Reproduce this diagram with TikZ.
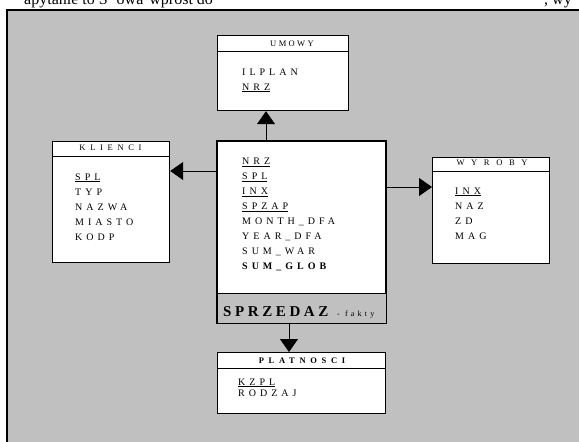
\documentclass[tikz,border=0pt]{standalone}
\usepackage{fontspec}
\setmainfont{Liberation Serif}
\newfontfamily\tabfont[LetterSpace=40]{Liberation Serif}
\usetikzlibrary{
  arrows.meta,
  positioning
}
\definecolor{panelgray}{RGB}{192,192,192}
\newcommand{\keyfield}[1]{\underline{#1}}
\newcommand{\spaced}[2]{{\addfontfeature{LetterSpace=#1}#2}}

\begin{document}
\begin{tikzpicture}[x=1pt, y=-1pt,
    table/.style={draw, line width=1.2pt, fill=white, inner sep=0pt, anchor=north west},
    title/.style={font=\fontsize{8.5}{9}\selectfont\tabfont, anchor=base, inner sep=0pt},
    field/.style={font=\fontsize{10}{12}\selectfont\tabfont, anchor=base west, inner sep=0pt},
    link/.style={line width=0.8pt, -{Triangle[width=18pt,length=13pt]}}]
  \useasboundingbox (0,0) rectangle (579,442);

  % cut-off line of text above the figure
  \begin{scope}
    \clip (0,0) rectangle (579,9.5);
    \node[anchor=base west, inner sep=0pt, font=\fontsize{16}{18}\selectfont] (topline) at (24,4.5) {apytanie to S\hspace{9pt}owa\hspace{6pt}wprost do};
    \node[anchor=base east, inner sep=0pt, font=\fontsize{16}{18}\selectfont] (topend) at (572,4.5) {, wy};
  \end{scope}

  % panel
  \fill[panelgray] (7,10) rectangle (585,450);
  \draw[line width=2pt] (7,450) -- (7,10) -- (585,10);

  % UMOWY
  \node[table, minimum width=131pt, minimum height=75pt] (umowy) at (217,35) {};
  \draw[line width=1pt] ([yshift=-16pt]umowy.north west) -- ([yshift=-16pt]umowy.north east);
  \node[title] (umowyT) at (292,46) {\spaced{28}{UMOWY}};
  \node[field] (u1) at (242,75) {ILPLAN};
  \node[field] (u2) at (242,90) {\keyfield{NRZ}};

  % KLIENCI
  \node[table, minimum width=117pt, minimum height=121pt] (klienci) at (52,141) {};
  \draw[line width=1pt] ([yshift=-15pt]klienci.north west) -- ([yshift=-15pt]klienci.north east);
  \node[title] (klienciT) at (110.5,150.7) {\spaced{55}{KLIENCI}};
  \foreach \t [count=\i] in {\keyfield{SPL}, TYP, NAZWA, MIASTO, KODP}
    \node[field] (k\i) at (75,180+15*\i-15) {\t};

  % WYROBY
  \node[table, minimum width=117pt, minimum height=106pt] (wyroby) at (432,157) {};
  \draw[line width=1pt] ([yshift=-14pt]wyroby.north west) -- ([yshift=-14pt]wyroby.north east);
  \node[title] (wyrobyT) at (492,165.7) {\spaced{78}{WYROBY}};
  \foreach \t [count=\i] in {\keyfield{INX}, NAZ, ZD, MAG}
    \node[field] (w\i) at (455,194+15*\i-15) {\t};

  % SPRZEDAZ - fakty
  \node[table, minimum width=168pt, minimum height=181pt] (sprzedaz) at (217,141) {};
  \fill[panelgray] ([yshift=30pt]sprzedaz.south west) rectangle (sprzedaz.south east);
  \draw[line width=1pt] ([yshift=30pt]sprzedaz.south west) -- ([yshift=30pt]sprzedaz.south east);
  \draw[line width=1.2pt] (sprzedaz.south west) rectangle (sprzedaz.north east);
  \foreach \t [count=\i] in {\keyfield{NRZ}, \keyfield{SPL}, \keyfield{INX}, \keyfield{SPZAP},
      MONTH\_DFA, YEAR\_DFA, SUM\_WAR, \textbf{SUM\_GLOB}}
    \node[field] (s\i) at (242,164.5+15*\i-15) {\t};
  \node[anchor=base west, inner sep=0pt, font=\fontsize{15}{16}\selectfont\bfseries\tabfont] (factlabel) at (223,316.7) {\spaced{24}{SPRZEDAZ}};
  \node[anchor=base west, inner sep=0pt, font=\fontsize{8}{9}\selectfont\tabfont] (factnote) at (337,316.7) {- fakty};

  % PLATNOSCI
  \node[table, minimum width=168pt, minimum height=61pt] (platnosci) at (217,352) {};
  \draw[line width=1pt] ([yshift=-16pt]platnosci.north west) -- ([yshift=-16pt]platnosci.north east);
  \node[title, font=\fontsize{8.5}{9}\selectfont\bfseries\tabfont] (platnosciT) at (302,363) {\spaced{55}{PLATNOSCI}};
  \node[field] (p1) at (238,385) {\keyfield{KZPL}};
  \node[field] (p2) at (238,396) {RODZAJ};

  % links
  \coordinate (upx) at (266,0);
  \coordinate (downx) at (289,0);
  \coordinate (lefty) at (0,171);
  \coordinate (righty) at (0,187);
  \draw[link] (sprzedaz.north -| upx) -- (umowy.south -| upx);
  \draw[link] (sprzedaz.west |- lefty) -- (klienci.east |- lefty);
  \draw[link] (sprzedaz.east |- righty) -- (wyroby.west |- righty);
  \draw[link] (sprzedaz.south -| downx) -- (platnosci.north -| downx);
\end{tikzpicture}
\end{document}
